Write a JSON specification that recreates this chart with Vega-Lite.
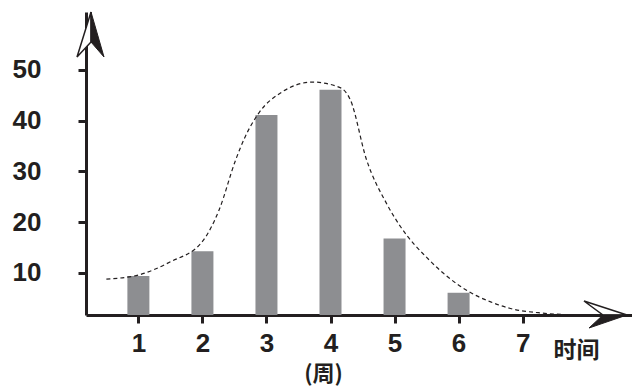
{
  "$schema": "https://vega.github.io/schema/vega-lite/v6.json",
  "autosize": {"type": "none"},
  "padding": {"left": 86, "top": 12, "right": 0, "bottom": 74},
  "width": 546,
  "height": 303,
  "background": "white",
  "config": {
    "view": {"stroke": null},
    "axis": {
      "grid": false,
      "domainColor": "#231f20",
      "domainWidth": 3,
      "tickColor": "#231f20",
      "tickWidth": 3,
      "tickSize": 8,
      "labelFont": "Liberation Sans",
      "labelFontWeight": "bold",
      "labelFontSize": 26,
      "labelColor": "#231f20",
      "title": null
    }
  },
  "datasets": {
    "weekly": [
      {"week": 1, "count": 9.4},
      {"week": 2, "count": 14.3},
      {"week": 3, "count": 41.1},
      {"week": 4, "count": 46.1},
      {"week": 5, "count": 16.8},
      {"week": 6, "count": 6.1}
    ],
    "trend": [
      {"week": 0.5, "count": 8.8},
      {"week": 1.0, "count": 9.6},
      {"week": 1.5, "count": 12.2},
      {"week": 2.0, "count": 16.2},
      {"week": 2.26, "count": 22.4},
      {"week": 2.52, "count": 32.3},
      {"week": 2.67, "count": 36.9},
      {"week": 2.88, "count": 41.5},
      {"week": 3.25, "count": 45.7},
      {"week": 3.72, "count": 47.6},
      {"week": 4.15, "count": 46.5},
      {"week": 4.31, "count": 44.1},
      {"week": 4.56, "count": 32.4},
      {"week": 4.87, "count": 23.8},
      {"week": 5.1, "count": 19.0},
      {"week": 5.53, "count": 12.7},
      {"week": 6.15, "count": 6.4},
      {"week": 6.5, "count": 4.3},
      {"week": 6.81, "count": 3.0},
      {"week": 7.3, "count": 2.1},
      {"week": 7.8, "count": 1.75}
    ],
    "single": [{}]
  },
  "layer": [
    {
      "data": {"name": "weekly"},
      "mark": {"type": "bar", "size": 22, "color": "#8d8e91"},
      "encoding": {
        "x": {
          "field": "week", "type": "quantitative",
          "scale": {"domain": [0.26, 8.63], "nice": false, "zero": false},
          "axis": {"values": [1, 2, 3, 4, 5, 6, 7], "format": "d", "labelPadding": 7, "labelFlush": false}
        },
        "y": {
          "field": "count", "type": "quantitative",
          "scale": {"domain": [1.72, 61.4], "nice": false, "zero": false},
          "axis": {"values": [10, 20, 30, 40, 50], "format": "d", "labelPadding": 37}
        },
        "y2": {"datum": 1.72}
      }
    },
    {
      "data": {"name": "trend"},
      "mark": {"type": "line", "interpolate": "monotone", "color": "#231f20", "strokeWidth": 1.2, "strokeDash": [4, 3]},
      "encoding": {
        "x": {"field": "week", "type": "quantitative"},
        "y": {"field": "count", "type": "quantitative"}
      }
    },
    {
      "data": {"name": "single"},
      "mark": {"type": "point", "shape": "M0,0 L-14,45 L0,30 Z", "size": 4, "filled": true, "fill": "white", "stroke": "#231f20", "strokeWidth": 1.5, "opacity": 1},
      "encoding": {"x": {"datum": 0.26}, "y": {"datum": 61.4}}
    },
    {
      "data": {"name": "single"},
      "mark": {"type": "point", "shape": "M0,0 L13,45 L0,30 Z", "size": 4, "filled": true, "fill": "#231f20", "stroke": "#231f20", "strokeWidth": 1, "opacity": 1},
      "encoding": {"x": {"datum": 0.26}, "y": {"datum": 61.4}}
    },
    {
      "data": {"name": "single"},
      "mark": {"type": "point", "shape": "M0,0 L-43,-14 L-24,0 Z", "size": 4, "filled": true, "fill": "white", "stroke": "#231f20", "strokeWidth": 1.5, "opacity": 1},
      "encoding": {"x": {"datum": 8.63}, "y": {"datum": 1.72}}
    },
    {
      "data": {"name": "single"},
      "mark": {"type": "point", "shape": "M0,0 L-38,13 L-24,0 Z", "size": 4, "filled": true, "fill": "#231f20", "stroke": "#231f20", "strokeWidth": 1, "opacity": 1},
      "encoding": {"x": {"datum": 8.63}, "y": {"datum": 1.72}}
    },
    {
      "data": {"name": "single"},
      "mark": {"type": "text", "font": "Noto Sans CJK SC", "fontWeight": "bold", "fontSize": 23, "color": "#231f20", "align": "center", "baseline": "middle"},
      "encoding": {"x": {"datum": 7.84}, "y": {"datum": -5.37}, "text": {"value": "时间"}}
    },
    {
      "data": {"name": "single"},
      "mark": {"type": "text", "font": "Noto Sans CJK SC", "fontWeight": "bold", "fontSize": 22, "color": "#231f20", "align": "center", "baseline": "middle"},
      "encoding": {"x": {"datum": 3.89}, "y": {"datum": -9.9}, "text": {"value": "(周)"}}
    }
  ]
}
